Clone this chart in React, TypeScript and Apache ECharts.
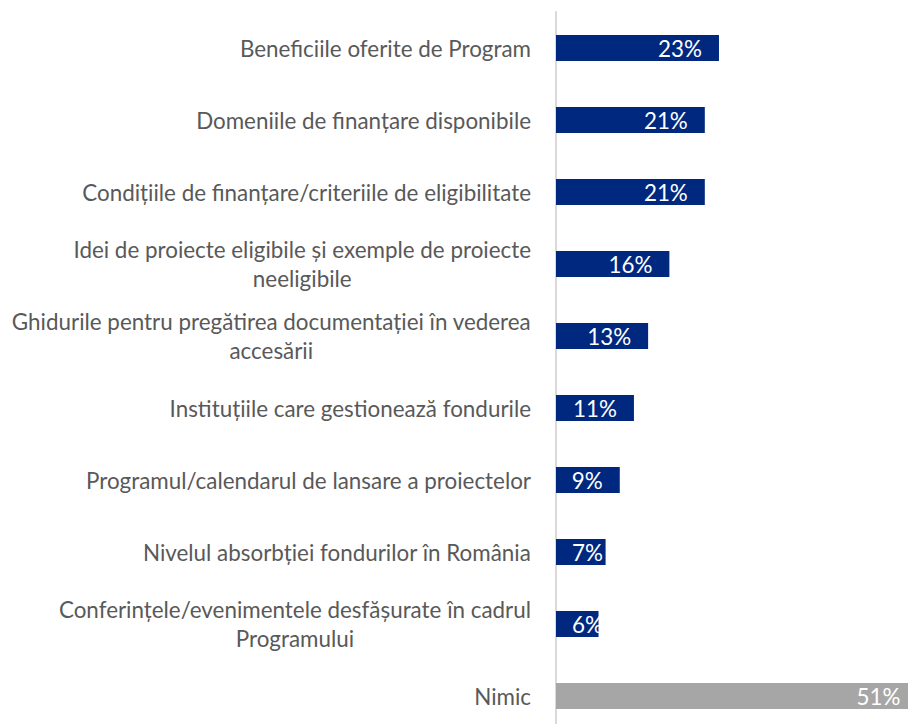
import React, { useEffect, useRef } from "react";
import * as echarts from "echarts";

const categories: string[] = [
  "Beneficiile oferite de Program",
  "Domeniile de finanțare disponibile",
  "Condițiile de finanțare/criteriile de eligibilitate",
  "Idei de proiecte eligibile și exemple de proiecte\nneeligibile",
  "Ghidurile pentru pregătirea documentației în vederea\naccesării",
  "Instituțiile care gestionează fondurile",
  "Programul/calendarul de lansare a proiectelor",
  "Nivelul absorbției fondurilor în România",
  "Conferințele/evenimentele desfășurate în cadrul\nProgramului",
  "Nimic",
];
const values: number[] = [23, 21, 21, 16, 13, 11, 9, 7, 6, 51];
const highlightIndex = 9; // "Nimic" drawn in grey

const BLUE = "#00287f";
const GREY = "#a6a6a6";
const FONT = "Lato";
const FS = 22.4;

export default function App() {
  const ref = useRef<HTMLDivElement>(null);
  useEffect(() => {
    if (!ref.current) return;
    const chart = echarts.init(ref.current, undefined, { renderer: "svg" });
    chart.setOption({
      animation: false,
      grid: {
        left: 556,
        top: 12,
        width: 361.4,
        height: 720,
        containLabel: false,
        outerBoundsMode: "none",
      },
      xAxis: {
        type: "value",
        min: 0,
        max: 51,
        show: false,
      },
      yAxis: {
        type: "category",
        inverse: true,
        data: categories,
        axisTick: { show: false },
        axisLine: { show: true, lineStyle: { color: "#d9d9d9", width: 2 } },
        axisLabel: {
          margin: 25,
          color: "#595959",
          fontFamily: FONT,
          fontSize: FS,
          lineHeight: 29,
          formatter: (v: string) =>
            v
              .split("\n")
              .map((l) => `{c|${l}}`)
              .join("\n"),
          rich: {
            c: {
              align: "center",
              color: "#595959",
              fontFamily: FONT,
              fontSize: FS,
              lineHeight: 29,
            },
          },
        },
        splitLine: { show: false },
      },
      series: [
        {
          type: "bar",
          barWidth: 26,
          data: values.map((v, i) => ({
            value: v,
            itemStyle: { color: i === highlightIndex ? GREY : BLUE },
            label: v <= 7 ? { position: "insideLeft", distance: 16 } : undefined,
          })),
          label: {
            show: true,
            position: "insideRight",
            distance: 17,
            color: "#ffffff",
            fontFamily: FONT,
            fontSize: FS,
            formatter: (p: any) => `${p.value}%`,
          },
        },
      ],
    });
    return () => chart.dispose();
  }, []);
  return (
    <div
      ref={ref}
      style={{ position: "fixed", left: 0, top: 0, width: 908, height: 724, background: "#fff", overflow: "hidden" }}
    />
  );
}
